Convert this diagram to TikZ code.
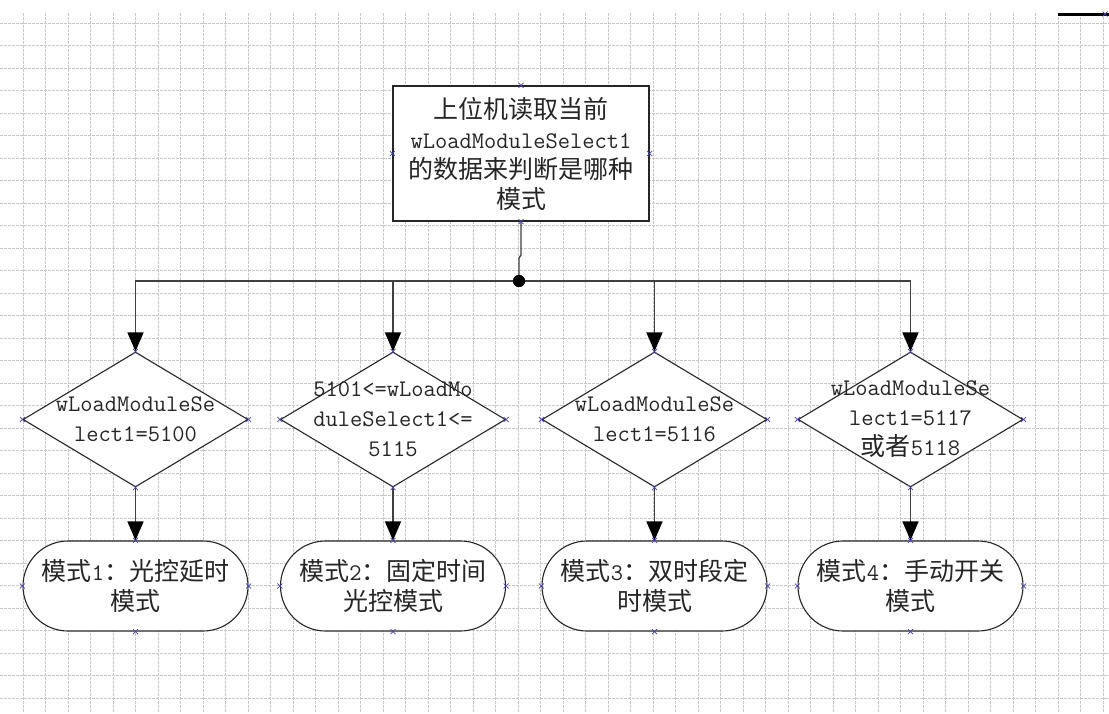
\documentclass[tikz,border=0pt]{standalone}
\usepackage{fontspec}
\newfontfamily\cjkfont{Noto Sans CJK SC}
\usetikzlibrary{arrows.meta,shapes.geometric}
\newcommand\lw[1]{{\fontsize{23.8}{30}\selectfont\ttfamily #1}}
\tikzset{
  gridline/.style={draw=black!22, line width=0.6pt, dash pattern=on 2.5pt off 1.5pt},
  shapeline/.style={draw=black!85, line width=1.1pt, fill=white},
  procbox/.style={shapeline, rectangle, minimum width=256pt, minimum height=135pt, inner sep=0pt},
  decbox/.style={shapeline, diamond, minimum width=225pt, minimum height=135pt, inner sep=0pt},
  termbox/.style={shapeline, rectangle, rounded corners=45pt, minimum width=225pt, minimum height=90pt, inner sep=0pt},
  txt/.style={align=center, font={\fontsize{25}{30}\selectfont\cjkfont}, text=black!85, inner sep=0pt},
  conn/.style={draw=black!75, line width=1.4pt},
  arr/.style={conn, -{Triangle[length=19pt,width=16pt,fill=black,color=black]}},
  xmk/.style={draw={rgb,255:red,70;green,70;blue,170}, line width=0.7pt},
}
\newcommand\xat[1]{\draw[xmk] (#1) +(-2.5,-2.5) -- +(2.5,2.5) +(-2.5,2.5) -- +(2.5,-2.5);}
\begin{document}
\begin{tikzpicture}[x=1pt,y=-1pt]
\useasboundingbox (0,0) rectangle (1109,713);
\fill[white] (0,0) rectangle (1109,713);
% grid
\foreach \i in {0,...,48} { \draw[gridline] ({23+22.5*\i},13) -- ({23+22.5*\i},713); }
\foreach \j in {0,...,30} { \draw[gridline] (0,{23+22.5*\j}) -- (1109,{23+22.5*\j}); }
% top-right line
\coordinate (trA) at (1058,14);
\coordinate (trB) at (1109,14);
\draw[black, line width=3pt] (trA) -- (trB);
\xat{1105,14}
% top box
\node[procbox] (top) at (521,153.5) {};
\node[txt] (toptxt) at (top.center) {上位机读取当前\\\lw{wLoadModuleSelect1}\\的数据来判断是哪种\\模式};
% junction
\coordinate (jog1) at (521,255);
\coordinate (jog2) at (519,258);
\node[circle, fill=black, inner sep=0pt, minimum size=12pt] (j) at (519,281) {};
\draw[conn] (top.south) -- (jog1) -- (jog2) -- (j.center);
% decisions
\node[decbox] (d1) at (135.5,419.5) {};
\node[decbox] (d2) at (393,419.5) {};
\node[decbox] (d3) at (654.5,419.5) {};
\node[decbox] (d4) at (910.5,419.5) {};
% terminals
\node[termbox] (t1) at (135.5,586) {};
\node[termbox] (t2) at (393,586) {};
\node[termbox] (t3) at (654.5,586) {};
\node[termbox] (t4) at (910.5,586) {};
% connectors
\draw[conn] (d1.north |- j) -- (d4.north |- j);
\foreach \d in {d1,d2,d3,d4} { \draw[arr] (j.center) -| (\d.north); }
\fill[black] (j) circle (6pt);
\draw[arr] (d1.south) -- (t1.north);
\draw[arr] (d2.south) -- (t2.north);
\draw[arr] (d3.south) -- (t3.north);
\draw[arr] (d4.south) -- (t4.north);
% texts
\node[txt] (d1t) at (d1.center) {\lw{wLoadModuleSe}\\\lw{lect1=5100}};
\node[txt] (d2t) at (d2.center) {\lw{5101<=wLoadMo}\\\lw{duleSelect1<=}\\\lw{5115}};
\node[txt] (d3t) at (d3.center) {\lw{wLoadModuleSe}\\\lw{lect1=5116}};
\node[txt] (d4t) at (d4.center) {\lw{wLoadModuleSe}\\\lw{lect1=5117}\\或者\lw{5118}};
\node[txt] (t1t) at (t1.center) {模式\lw{1}：光控延时\\模式};
\node[txt] (t2t) at (t2.center) {模式\lw{2}：固定时间\\光控模式};
\node[txt] (t3t) at (t3.center) {模式\lw{3}：双时段定\\时模式};
\node[txt] (t4t) at (t4.center) {模式\lw{4}：手动开关\\模式};
% connection markers
\foreach \n in {top,d1,d2,d3,d4,t1,t2,t3,t4} {
  \xat{\n.north} \xat{\n.south} \xat{\n.west} \xat{\n.east}
}
\end{tikzpicture}
\end{document}
